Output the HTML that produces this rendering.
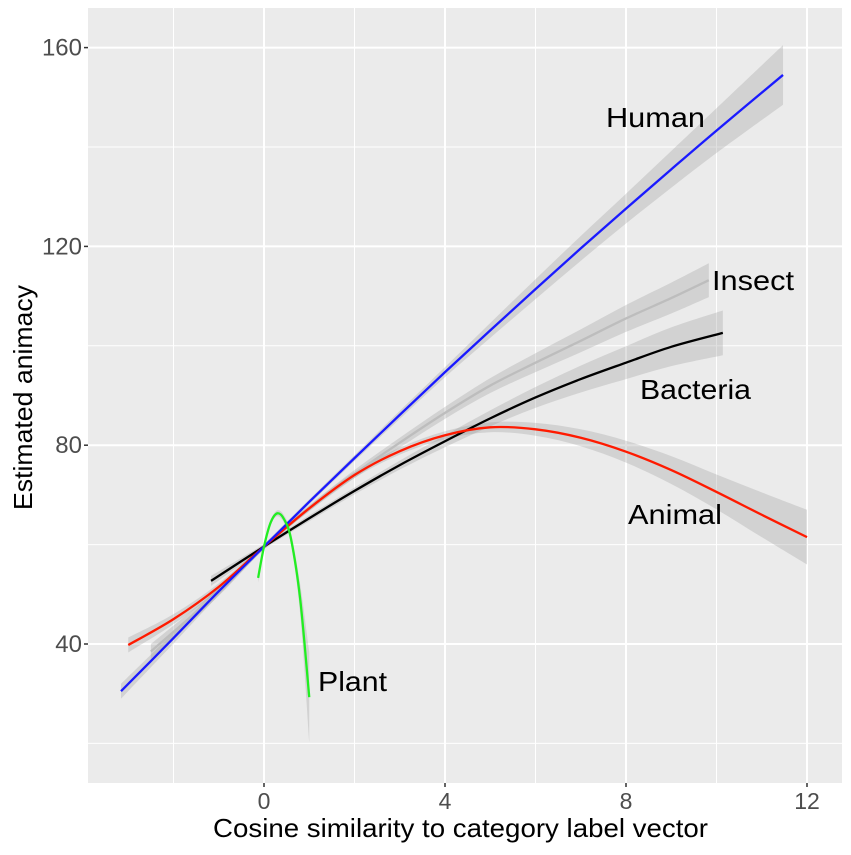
<!DOCTYPE html>
<html><head><meta charset="utf-8"><style>
body{margin:0;background:#fff;}
svg text{font-family:"Liberation Sans",sans-serif;}
</style></head><body>
<svg id="chart" width="851" height="850" xmlns="http://www.w3.org/2000/svg">
<rect x="88" y="8" width="754" height="775" fill="#ebebeb"/>
<g id="grid"></g>
<g id="ribbons"></g>
<g id="lines"></g>
<g id="axes"></g>
<text x="606" y="127" font-size="28" textLength="99" lengthAdjust="spacingAndGlyphs" fill="#000">Human</text>
<text x="712" y="290" font-size="28" textLength="82" lengthAdjust="spacingAndGlyphs" fill="#000">Insect</text>
<text x="640" y="399" font-size="28" textLength="111" lengthAdjust="spacingAndGlyphs" fill="#000">Bacteria</text>
<text x="628" y="524" font-size="28" textLength="94" lengthAdjust="spacingAndGlyphs" fill="#000">Animal</text>
<text x="318" y="691" font-size="28" textLength="69" lengthAdjust="spacingAndGlyphs" fill="#000">Plant</text>
<text x="213" y="837" font-size="26" textLength="495" lengthAdjust="spacingAndGlyphs" fill="#000">Cosine similarity to category label vector</text>
<text transform="translate(32,510) rotate(-90)" font-size="26" textLength="225" lengthAdjust="spacingAndGlyphs" fill="#000">Estimated animacy</text>
</svg>
<script>
const xTicks=[0,4,8,12];
const xMinor=[-2,2,6,10];
const yTicks=[40,80,120,160];
const yMinor=[20,60,100,140];
const humanX=[-3.16,-2,-1,0,1,2,3,4,5,6,7,8,9,10,11.47];
const humanY=[30.5,41.2,50.6,59.6,68.6,77.4,86.1,94.7,103.1,111.4,119.6,127.6,135.5,143.3,154.5];
const humanSE=[1.5,1.1,0.8,0.5,0.5,0.6,0.8,1,1.5,2,2.5,3,3.7,4.5,6];
const insectX=[-2.5,-1,0,1,2,3,4,5,6,7,8,9,9.83];
const insectY=[38.5,50.5,59.6,67.3,74.2,80.5,86.5,92,96.6,101,105.5,109.6,113.2];
const insectSE=[1.5,0.8,0.5,0.6,0.8,1,1.2,1.5,1.9,2.3,2.7,3.1,3.4];
const bacteriaX=[-1.17,0,1,2,3,4,5,6,7,8,9,10.14];
const bacteriaY=[52.7,59.6,65.3,70.8,76,80.8,85.4,89.6,93.3,96.6,99.8,102.6];
const bacteriaSE=[1,0.5,0.6,0.7,0.9,1.2,1.6,2.1,2.7,3.3,3.9,4.5];
const animalX=[-3,-2,-1,0,1,2,3,4,5,6,7,8,9,10,11,12];
const animalY=[39.8,45,51.5,59.6,67.3,74,78.8,82,83.6,83.2,81.5,78.7,75,70.6,66,61.5];
const animalSE=[1.5,1,0.7,0.5,0.5,0.6,0.7,0.8,1,1.3,1.7,2.2,2.8,3.5,4.5,5.5];
const plantX=[-0.13,0,0.15,0.3,0.45,0.6,0.8,1.0];
const plantY=[53.3,59.6,64.5,66.3,65,61,49,29.3];
const plantSE=[1,0.5,0.5,0.6,0.8,1.2,3,9];

const NS="http://www.w3.org/2000/svg";
const X0=88,X1=842,Y0=8,Y1=783;
const sx=v=>264+45.25*v;
const sy=v=>644-4.97*(v-40);
function mk(tag,attrs,parent){const e=document.createElementNS(NS,tag);for(const k in attrs)e.setAttribute(k,attrs[k]);parent.appendChild(e);return e;}
const grid=document.getElementById('grid'),axes=document.getElementById('axes');
xMinor.forEach(v=>{const l=mk('line',{x1:sx(v),x2:sx(v),y1:Y0,y2:Y1,stroke:'#fff','stroke-width':1},grid);

});
yMinor.forEach(v=>{const l=mk('line',{x1:X0,x2:X1,y1:sy(v),y2:sy(v),stroke:'#fff','stroke-width':1},grid);

});
xTicks.forEach(v=>{const l=mk('line',{x1:sx(v),x2:sx(v),y1:Y0,y2:Y1,stroke:'#fff','stroke-width':2},grid);


const t=mk('line',{x1:sx(v),x2:sx(v),y1:Y1,y2:Y1+4,stroke:'#333','stroke-width':1.5},axes);


const tx=mk('text',{x:sx(v),y:809,'font-size':23,'text-anchor':'middle',fill:'#4d4d4d'},axes);tx.textContent=v;

});
yTicks.forEach(v=>{const l=mk('line',{x1:X0,x2:X1,y1:sy(v),y2:sy(v),stroke:'#fff','stroke-width':2},grid);


const t=mk('line',{x1:X0-4,x2:X0,y1:sy(v),y2:sy(v),stroke:'#333','stroke-width':1.5},axes);


const tx=mk('text',{x:X0-6,y:sy(v)+8,'font-size':24,'text-anchor':'end',fill:'#4d4d4d'},axes);tx.textContent=v;

});
function smooth(pts){let d='M'+pts[0][0]+','+pts[0][1];
for(let i=0;i<pts.length-1;i++){const p0=pts[i-1]||pts[i],p1=pts[i],p2=pts[i+1],p3=pts[i+2]||p2;
const c1=[p1[0]+(p2[0]-p0[0])/6,p1[1]+(p2[1]-p0[1])/6],c2=[p2[0]-(p3[0]-p1[0])/6,p2[1]-(p3[1]-p1[1])/6];
d+=' C'+c1[0]+','+c1[1]+' '+c2[0]+','+c2[1]+' '+p2[0]+','+p2[1];}return d;}
const ribbons=document.getElementById('ribbons'),lines=document.getElementById('lines');
const series=[['insect',insectX,insectY,insectSE,'#bdbdbd'],['bacteria',bacteriaX,bacteriaY,bacteriaSE,'#000'],['animal',animalX,animalY,animalSE,'#ff1a00'],['human',humanX,humanY,humanSE,'#1a1aff'],['plant',plantX,plantY,plantSE,'#22ee22']];
series.forEach(([nm,xs,ys,se,col])=>{
const up=xs.map((x,i)=>[sx(x),sy(ys[i]+se[i])]);
const lo=xs.map((x,i)=>[sx(x),sy(ys[i]-se[i])]).reverse();
const rp=smooth(up)+' L'+smooth(lo).slice(1)+' Z';
const r=mk('path',{d:rp,fill:'#999','fill-opacity':0.3},ribbons);


const l=mk('path',{d:smooth(xs.map((x,i)=>[sx(x),sy(ys[i])])),fill:'none',stroke:col,'stroke-width':2.3},lines);


});
</script>
</body></html>
